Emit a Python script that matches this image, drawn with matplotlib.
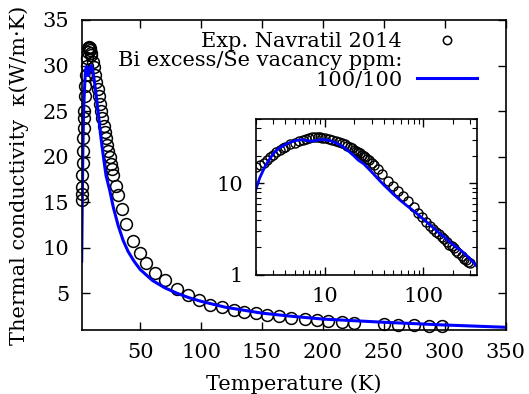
import matplotlib
matplotlib.use("Agg")
import matplotlib.pyplot as plt
from matplotlib.lines import Line2D
from matplotlib.ticker import LogLocator, NullFormatter, FixedLocator

plt.rcParams['font.family'] = ['DejaVu Serif']
plt.rcParams['mathtext.fontset'] = 'dejavuserif'

# Experimental data (Navratil 2014)
exp_T = [2.0, 2.2, 2.4, 2.6, 2.8, 3.0, 3.25, 3.5, 3.75, 4.0, 4.5, 5.0, 5.5, 6.0,
         6.5, 7.0, 7.5, 8.0, 8.5, 9.0, 9.5, 10, 11, 12, 13, 14, 15, 16, 17, 18,
         19, 20, 21, 22, 23, 24, 25, 26, 27, 28, 30, 31.5, 35, 38.6, 44, 50, 55,
         62, 70, 80, 89, 98, 107, 117, 127, 135, 145, 154, 164, 174, 185, 195,
         204, 216, 226, 250, 262, 275, 287, 298]
exp_k = [15.2, 15.9, 16.7, 18.0, 19.3, 20.6, 22.0, 23.1, 24.2, 25.0, 26.6, 27.8,
         29.0, 30.0, 30.8, 31.5, 31.9, 32.0, 31.9, 31.7, 31.4, 31.2, 30.4, 29.8,
         29.0, 28.2, 27.4, 26.6, 25.8, 25.0, 24.2, 23.4, 22.7, 22.0, 21.3, 20.6,
         19.9, 19.2, 18.6, 18.0, 16.8, 15.8, 14.2, 12.6, 10.7, 9.4, 8.3, 7.2,
         6.4, 5.5, 4.8, 4.3, 3.75, 3.45, 3.2, 2.95, 2.8, 2.6, 2.5, 2.3, 2.15,
         2.05, 1.95, 1.85, 1.75, 1.6, 1.5, 1.45, 1.4, 1.36]

# Model: Bi excess / Se vacancy 100/100 ppm
model_T = [2.0, 2.2, 2.5, 3.0, 3.5, 4.0, 4.5, 5.0, 5.5, 6.0, 6.5, 7.0, 7.5, 8.0,
           9.0, 10, 11, 12, 14, 16, 18, 20, 22, 25, 28, 32, 36, 40, 45, 50, 60,
           70, 80, 90, 100, 120, 150, 175, 200, 250, 300, 350]
model_k = [8.5, 11.5, 15.5, 21.0, 24.5, 26.5, 28.0, 29.2, 29.7, 29.9, 29.5, 28.9,
           28.9, 29.3, 29.8, 30.0, 29.5, 28.7, 26.6, 24.3, 21.9, 19.8, 17.9,
           16.3, 14.4, 12.4, 10.8, 9.6, 8.5, 7.6, 6.4, 5.6, 5.0, 4.5, 4.1, 3.45,
           2.8, 2.45, 2.15, 1.8, 1.5, 1.25]

xticks_main = [50, 100, 150, 200, 250, 300, 350]
yticks_main = [5, 10, 15, 20, 25, 30, 35]

FS = 15
fig = plt.figure(figsize=(5.29, 3.94), dpi=100)
ax = fig.add_axes([81.7/529, 1-330/394, (505.5-81.7)/529, (330-20)/394])

ax.plot(exp_T, exp_k, linestyle='none', marker='o', markersize=8.5,
        markerfacecolor='none', markeredgecolor='black', markeredgewidth=1.1,
        clip_on=False)
ax.plot(model_T, model_k, color='#0000ff', linewidth=2.2)

ax.set_xlim(2, 350)
ax.set_ylim(0.95, 35)
ax.set_xticks(xticks_main)
ax.set_yticks(yticks_main)
ax.tick_params(direction='in', top=True, right=True, length=6, width=1,
               labelsize=FS, pad=9)
for s in ax.spines.values():
    s.set_linewidth(1.2)
ax.set_xlabel('Temperature (K)', fontsize=FS, labelpad=9)
ax.set_ylabel('Thermal conductivity  κ(W/m·K)', fontsize=FS, labelpad=10)

h1 = Line2D([], [], linestyle='none', marker='o', markersize=6,
            markerfacecolor='none', markeredgecolor='black', markeredgewidth=1.1)
h2 = Line2D([], [], color='none')
h3 = Line2D([], [], color='#0000ff', linewidth=2.2)
ax.legend([h1, h2, h3], ['Exp. Navratil 2014', 'Bi excess/Se vacancy ppm:', '100/100'],
          loc='upper right', frameon=False, markerfirst=False, fontsize=FS,
          handlelength=2.9, handletextpad=0.7, labelspacing=0.02,
          borderaxespad=0.0, borderpad=0.3, bbox_to_anchor=(0.948, 0.982))

# Inset
axi = fig.add_axes([255.7/529, 1-275/394, (476.7-255.7)/529, (275-119.3)/394])
axi.plot(exp_T, exp_k, linestyle='none', marker='o', markersize=6.5,
         markerfacecolor='none', markeredgecolor='black', markeredgewidth=1.0)
axi.plot(model_T, model_k, color='#0000ff', linewidth=2.0)
axi.set_xscale('log')
axi.set_yscale('log')
axi.set_xlim(2, 350)
axi.set_ylim(1, 50)
axi.xaxis.set_major_locator(FixedLocator([10, 100]))
axi.yaxis.set_major_locator(FixedLocator([1, 10]))
axi.set_xticklabels(['10', '100'])
axi.set_yticklabels(['1', '10'])
axi.xaxis.set_minor_locator(LogLocator(base=10, subs=range(2, 10)))
axi.yaxis.set_minor_locator(LogLocator(base=10, subs=range(2, 10)))
axi.xaxis.set_minor_formatter(NullFormatter())
axi.yaxis.set_minor_formatter(NullFormatter())
axi.tick_params(which='both', direction='in', top=True, right=True, labelsize=FS, pad=9)
axi.tick_params(which='major', length=6, width=1)
axi.tick_params(which='minor', length=3.5, width=0.8)
for s in axi.spines.values():
    s.set_linewidth(1.2)

fig.savefig('out.png', dpi=100)
